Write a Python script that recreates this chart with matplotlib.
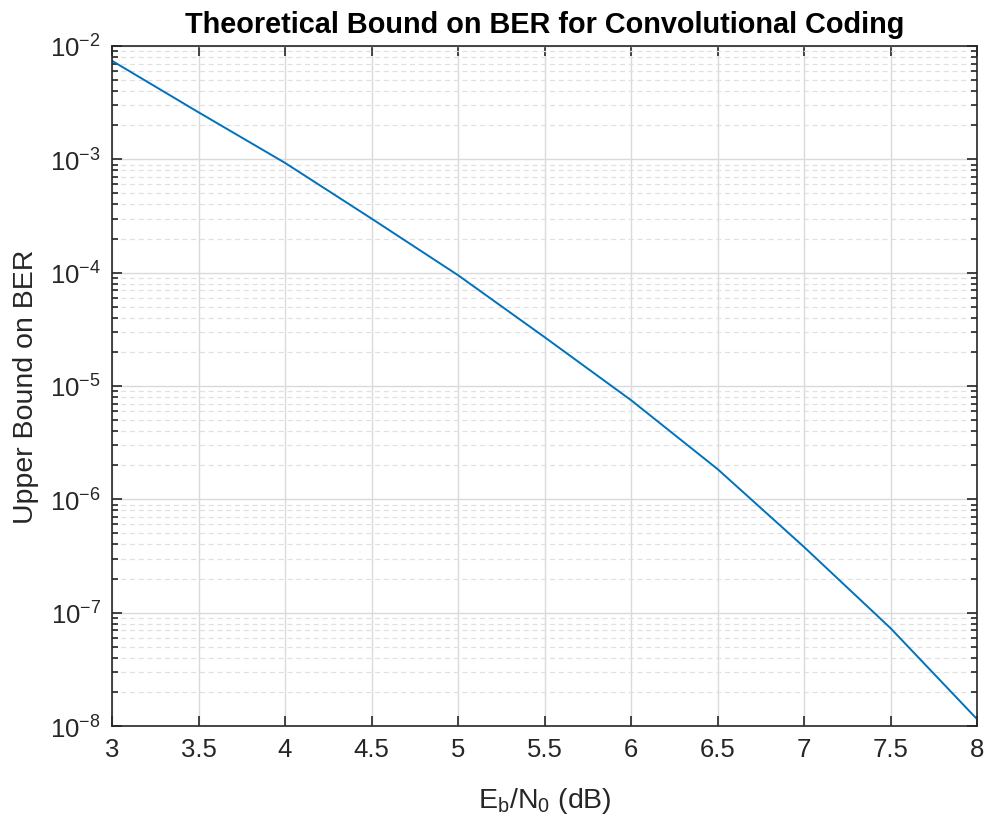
import numpy as np
import matplotlib
matplotlib.use('Agg')
import matplotlib.pyplot as plt
from matplotlib.ticker import FixedLocator, NullFormatter

plt.rcParams['font.family'] = ['Liberation Sans', 'DejaVu Sans']
plt.rcParams['mathtext.fontset'] = 'custom'
plt.rcParams['mathtext.rm'] = 'Liberation Sans'
plt.rcParams['mathtext.it'] = 'Liberation Sans:italic'

# Eb/N0 in dB and upper bound on BER
ebno = [3.0, 3.5, 4.0, 4.5, 5.0, 5.5, 6.0, 6.5, 7.0, 7.5, 8.0]
ber_bound = [7.4e-3, 2.6e-3, 9.3e-4, 3.0e-4, 9.5e-5, 2.7e-5, 7.5e-6, 1.85e-6, 3.8e-7, 7.3e-8, 1.15e-8]
xticks = [3, 3.5, 4, 4.5, 5, 5.5, 6, 6.5, 7, 7.5, 8]
xticklabels = ['3', '3.5', '4', '4.5', '5', '5.5', '6', '6.5', '7', '7.5', '8']
yticks = [1e-8, 1e-7, 1e-6, 1e-5, 1e-4, 1e-3, 1e-2]
yticklabels = [r'$10^{-8}$', r'$10^{-7}$', r'$10^{-6}$', r'$10^{-5}$',
               r'$10^{-4}$', r'$10^{-3}$', r'$10^{-2}$']

dark = '#262626'

fig = plt.figure(figsize=(9.87, 8.2), dpi=100)
ax = fig.add_axes([0.1135, 0.1134, 0.8764, 0.8293])

ax.semilogy(ebno, ber_bound, color='#0072BD', lw=1.4)

ax.set_xlim(3, 8)
ax.set_ylim(1e-8, 1e-2)
ax.set_xticks(xticks)
ax.set_xticklabels(xticklabels)
ax.set_yticks(yticks)
ax.set_yticklabels(yticklabels)
minor = [m * 10.0 ** e for e in range(-8, -2) for m in range(2, 10)]
ax.yaxis.set_minor_locator(FixedLocator(minor))
ax.yaxis.set_minor_formatter(NullFormatter())

ax.grid(True, which='major', color='#dadada', lw=1.0, ls='-')
ax.grid(True, which='minor', axis='y', color='#e0e0e0', lw=0.9, ls=(0, (4, 3)))
ax.set_axisbelow(True)

ax.tick_params(which='both', direction='in', top=True, right=True,
               colors=dark, labelcolor=dark, labelsize=18.5, width=1.2)
ax.tick_params(which='major', length=7, pad=8)
ax.tick_params(which='minor', length=4)
for s in ax.spines.values():
    s.set_color(dark)
    s.set_linewidth(1.2)

ax.set_xlabel(r'E$_{\rm b}$/N$_{\rm 0}$ (dB)', fontsize=20.5, color=dark, labelpad=17)
ax.set_ylabel('Upper Bound on BER', fontsize=20.5, color=dark, labelpad=8)
ax.set_title('Theoretical Bound on BER for Convolutional Coding',
             fontsize=20.8, fontweight='bold', color='black', pad=10)

fig.savefig('out.png', dpi=100, facecolor='white')
